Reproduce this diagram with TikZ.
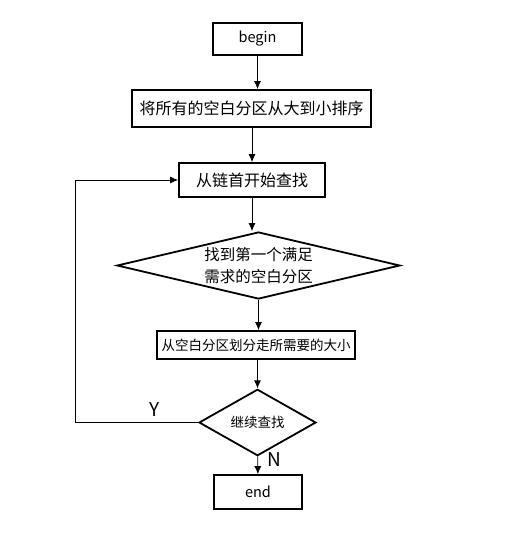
\documentclass[tikz,border=0pt]{standalone}
\usepackage{fontspec}
\newfontfamily\cjk{Noto Sans CJK SC}
\usetikzlibrary{shapes.geometric}
\usetikzlibrary{arrows.meta}
\newcommand{\sizebig}{\cjk\fontsize{16}{19}\selectfont}
\newcommand{\sizesmall}{\cjk\fontsize{13.5}{16}\selectfont}
\tikzset{
    common/.style={draw, line width=1.8pt, inner sep=0pt, font=\sizebig},
    terminal/.style={common, rectangle, minimum width=88pt, minimum height=33pt, font=\cjk\fontsize{14.5}{17}\selectfont},
    process/.style={common, rectangle},
    decision/.style={common, diamond, align=center},
    flow/.style={-{Latex[length=8pt, width=7pt]}, line width=0.8pt},
    answer/.style={inner sep=0pt, font=\cjk\fontsize{19}{22}\selectfont}
}

\begin{document}
\begin{tikzpicture}[x=1pt, y=-1pt]
      \useasboundingbox (0,0) rectangle (507,560);

      \path
          (257.5,39) node[terminal, minimum width=89pt, minimum height=32pt] (start) {begin}
          (251.5,108.5) node[process, minimum width=239pt, minimum height=37pt] (sort) {将所有的空白分区从大到小排序}
          (252,180) node[process, minimum width=146pt, minimum height=34pt] (search) {从链首开始查找}
          (258.5,265.5) node[decision, minimum width=283pt, minimum height=67pt, aspect=4.2, font=\cjk\fontsize{15.5}{22}\selectfont] (found) {找到第一个满足\\需求的空白分区}
          (256,345) node[process, minimum width=198pt, minimum height=28pt, font=\sizesmall] (split) {从空白分区划分走所需要的大小}
          (257.5,422.5) node[decision, minimum width=117pt, minimum height=41pt, font=\sizesmall] (more) {继续查找}
          (258,492) node[terminal, minimum height=34pt] (stop) {end};

      \coordinate (loop) at (75,422.5);

      \draw[flow] (start) -- (start |- sort.north);
      \draw[flow] (search |- sort.south) -- (search);
      \draw[flow] (search) -- (search |- found.north);
      \draw[flow] (found) -- (found |- split.north);
      \draw[flow] (more |- split.south) -- (more);
      \draw[flow] (more) -- (stop);
      \draw[flow] (more.west) -- (loop) |- (search.west);

      \path
          (155,410) node[answer] (yes) {Y}
          (274,460) node[answer] (no) {N};
\end{tikzpicture}
\end{document}
